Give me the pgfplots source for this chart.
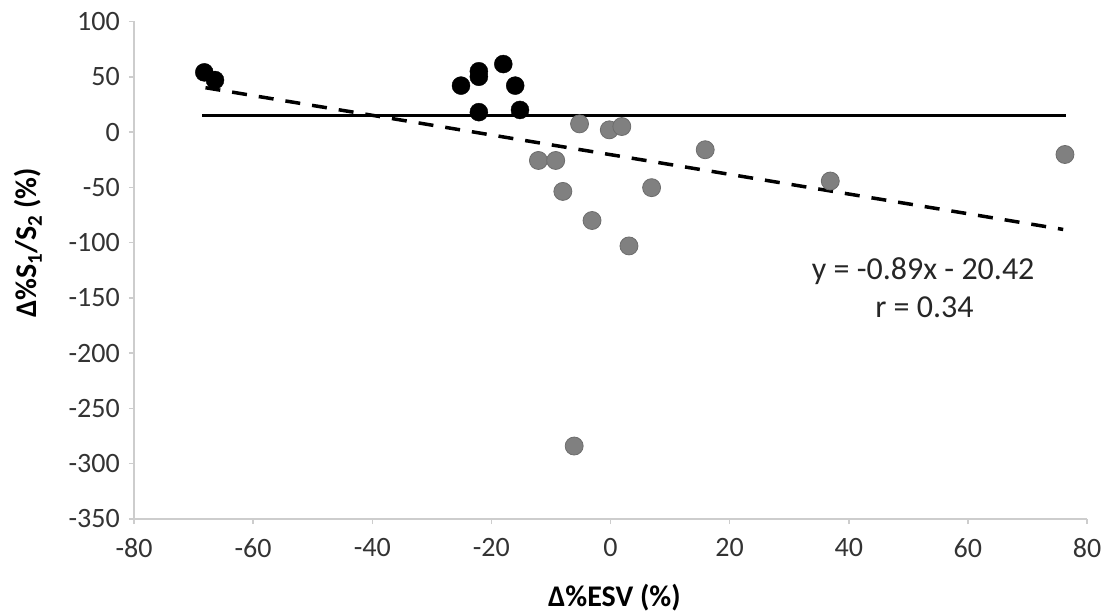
\documentclass[border=0pt]{standalone}
\usepackage{fontspec}
\setmainfont{Carlito}
\usepackage{pgfplots}
\pgfplotsset{compat=1.18}
\definecolor{ptgray}{RGB}{128,128,128}
\definecolor{axgray}{RGB}{205,205,205}
\begin{document}
\begin{tikzpicture}
\useasboundingbox (-134pt,-96pt) rectangle (973pt,519pt);
\begin{axis}[
  at={(0pt,0pt)}, anchor=south west,
  width=953pt, height=497.5pt, scale only axis,
  xmin=-80, xmax=80, ymin=-350, ymax=100,
  xtick={-80,-60,...,80}, ytick={-350,-300,...,100},
  axis x line=bottom, axis y line=left,
  axis line style={-, draw=axgray, line width=1.5pt},
  tick align=outside, major tick length=5pt,
  tick style={axgray, line width=1.5pt},
  ticklabel style={font=\fontsize{28}{32}\selectfont, text=black!80, inner sep=0pt},
  xticklabel style={anchor=north, yshift=-14pt},
  yticklabel style={anchor=east, xshift=-9pt},
  /pgf/number format/assume math mode=true,
  xlabel={\textbf{Δ\%ESV (\%)}},
  ylabel={\textbf{Δ\%S\textsubscript{1}/S\textsubscript{2} (\%)}},
  every axis x label/.style={at={(axis description cs:0.504,-0.159)}, anchor=center, font=\fontsize{30}{34}\selectfont},
  every axis y label/.style={at={(axis description cs:-0.111,0.555)}, anchor=center, rotate=90, font=\fontsize{30}{34}\selectfont},
  clip=false,
]
\addplot[only marks, mark=*, mark size=9pt, mark options={fill=ptgray, draw=ptgray!85!black, line width=0.8pt}] coordinates {
  (-5.2,7.4) (-0.2,2) (1.9,5) (-12.1,-25.7) (-9.2,-25.7) (-8,-53.7)
  (-3.1,-80) (3.1,-103) (6.9,-50.3) (15.9,-16) (36.9,-44.3) (76.3,-20.3) (-6.1,-284)
};
\addplot[only marks, mark=*, mark size=9pt, mark options={fill=black, draw=black}] coordinates {
  (-68.2,54) (-66.4,47) (-25.1,42) (-22.1,55) (-22.1,50) (-18,61.5) (-16,42) (-22.1,18) (-15.2,20)
};
\addplot[black, line width=3pt] coordinates {(-68.5,15) (76.5,15)};
\addplot[black, line width=3.5pt, dash pattern=on 15pt off 12pt] coordinates {(-68,40.1) (76,-88.1)};
\node[font=\fontsize{32}{36}\selectfont, text=black!85] at (axis cs:52.5,-125.9) {y = -0.89x - 20.42};
\node[font=\fontsize{32}{36}\selectfont, text=black!85] at (axis cs:52.7,-158.6) {r = 0.34};
\end{axis}
\end{tikzpicture}
\end{document}
